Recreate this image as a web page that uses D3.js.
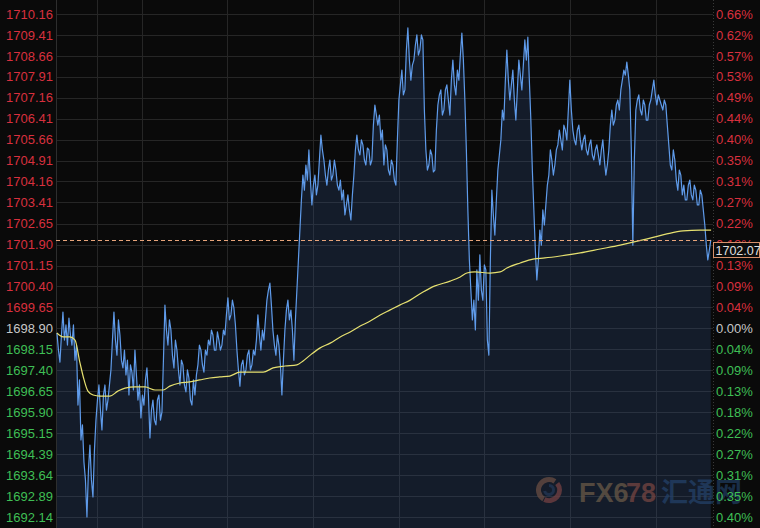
<!DOCTYPE html>
<html><head><meta charset="utf-8">
<script src="https://cdn.jsdelivr.net/npm/d3@7"></script>
<style>
html,body{margin:0;padding:0;background:#0a0a0a;}
svg{display:block;}
</style></head>
<body>
<svg id="chart" width="760" height="528"></svg>
<script>
// ---- data ----
const tickValues = [1710.16,1709.41,1708.66,1707.91,1707.16,1706.41,1705.66,1704.91,1704.16,1703.41,1702.65,1701.90,1701.15,1700.40,1699.65,1698.90,1698.15,1697.40,1696.65,1695.90,1695.15,1694.39,1693.64,1692.89,1692.14];
const prevClose = 1698.90;
const lastPrice = 1702.07;
const sessionMinutes = 1380;
const gridMinutes = [86,180,360,540,720,900,1080,1260];
const priceStartMin = 2, priceStepMin = 3.15;
const prices = [
1698.73,1698.12,1697.69,1698.66,1699.48,1698.48,1699.02,1698.30,1699.27,1698.66,1698.30,1699.02,1697.76,1698.30,1696.15,1697.05,
1694.90,1695.44,1694.11,1693.47,1692.14,1693.82,1694.72,1693.47,1692.86,1694.54,1695.61,1696.33,1696.87,1695.97,1695.26,1696.51,
1696.87,1695.97,1696.33,1696.87,1697.41,1698.48,1699.48,1698.48,1697.94,1699.20,1698.66,1697.76,1697.48,1698.12,1697.23,1697.76,
1696.51,1697.59,1697.33,1696.69,1698.12,1697.23,1696.33,1696.87,1695.69,1696.51,1696.15,1697.05,1697.48,1696.51,1694.97,1695.97,
1696.33,1695.61,1695.44,1696.33,1696.51,1695.61,1695.90,1697.76,1699.73,1698.84,1698.30,1699.20,1698.84,1697.94,1697.48,1698.48,
1698.12,1697.41,1696.87,1697.76,1697.59,1696.87,1696.62,1697.41,1697.12,1696.33,1696.15,1697.05,1696.51,1697.23,1697.59,1698.30,
1698.12,1697.59,1697.33,1698.12,1697.94,1698.48,1698.30,1698.84,1698.66,1698.12,1698.12,1698.77,1698.48,1698.12,1698.30,1698.84,
1698.66,1699.38,1699.99,1699.20,1699.38,1699.91,1699.63,1699.02,1698.12,1697.41,1696.83,1697.59,1697.76,1697.23,1697.41,1697.94,
1698.12,1697.41,1697.59,1698.12,1697.94,1698.48,1699.38,1698.66,1698.12,1698.84,1698.48,1699.20,1699.91,1700.27,1700.52,1699.73,
1698.84,1698.30,1697.94,1698.66,1698.30,1697.59,1696.51,1697.76,1698.84,1699.55,1699.91,1699.20,1699.55,1698.84,1697.76,1699.20,
1700.27,1701.35,1702.42,1703.50,1704.39,1703.85,1704.75,1704.21,1705.29,1704.21,1703.32,1704.03,1704.39,1703.68,1704.03,1704.93,
1705.82,1705.29,1704.93,1704.39,1704.03,1704.57,1704.93,1704.21,1704.39,1704.93,1704.57,1704.03,1703.85,1704.21,1703.50,1703.85,
1702.96,1703.32,1703.68,1703.14,1702.78,1703.68,1704.39,1705.29,1705.82,1705.29,1705.11,1705.65,1705.47,1704.93,1704.75,1705.36,
1705.29,1704.75,1704.93,1706.18,1706.90,1706.54,1706.18,1706.54,1705.65,1706.00,1704.75,1705.47,1705.29,1704.57,1704.39,1704.93,
1704.75,1704.21,1704.03,1705.65,1707.08,1707.62,1708.15,1707.26,1707.44,1708.87,1709.66,1708.51,1707.79,1708.33,1708.51,1709.05,
1709.41,1708.69,1708.87,1709.41,1709.23,1706.72,1705.29,1704.57,1704.75,1705.29,1705.11,1704.50,1704.57,1706.00,1706.90,1707.26,
1707.44,1706.54,1706.72,1707.44,1707.62,1707.08,1706.54,1707.79,1708.51,1707.62,1707.26,1708.15,1707.79,1708.69,1709.48,1708.51,
1707.08,1705.29,1703.14,1701.35,1700.27,1699.20,1699.91,1698.84,1700.99,1699.91,1701.53,1700.27,1699.91,1701.17,1700.99,1698.48,
1697.94,1701.35,1703.85,1702.96,1702.24,1703.50,1704.57,1705.11,1705.65,1706.72,1706.36,1707.79,1708.87,1707.79,1707.08,1707.62,
1708.15,1707.08,1706.36,1707.44,1708.51,1707.97,1707.44,1708.33,1709.23,1708.51,1709.33,1707.79,1706.36,1704.57,1703.14,1701.70,
1700.63,1701.35,1702.42,1701.88,1703.14,1702.60,1703.32,1704.03,1704.39,1705.29,1704.93,1704.39,1704.75,1705.29,1705.47,1706.00,
1705.65,1705.29,1706.18,1706.00,1705.65,1706.72,1707.79,1706.72,1706.00,1705.65,1705.47,1706.00,1706.18,1705.65,1705.29,1705.65,
1705.82,1705.29,1705.11,1705.47,1705.65,1705.11,1704.93,1705.29,1705.47,1705.11,1704.75,1705.29,1705.65,1704.93,1704.39,1704.75,
1705.29,1706.18,1706.72,1706.18,1706.36,1706.90,1707.08,1706.72,1707.44,1707.79,1708.15,1707.97,1708.44,1707.97,1707.44,1705.29,
1701.88,1704.93,1706.72,1707.08,1707.26,1706.72,1706.54,1707.08,1706.90,1706.36,1706.36,1706.90,1707.08,1707.44,1707.79,1707.26,
1706.90,1707.26,1707.08,1706.90,1706.72,1707.08,1706.90,1706.18,1705.47,1704.75,1704.57,1705.29,1704.93,1704.21,1703.85,1704.57,
1704.39,1703.68,1704.03,1703.50,1703.50,1704.03,1704.21,1703.68,1703.50,1704.03,1703.85,1703.32,1703.32,1703.85,1703.68,1703.14,
1702.60,1701.88,1701.35,1701.70,1702.07];
const avgMinutes = [2,15,29,40,50,59,67,78,92,113,130,145,166,187,208,225,239,260,281,302,323,344,365,386,407,435,456,481,506,519,534,554,576,597,618,639,660,681,702,722,744,771,796,828,849,863,880,912,933,947,975,1002,1027,1059,1101,1143,1185,1212,1248,1283,1317,1353,1376];
const avgValues = [1698.73,1698.59,1698.59,1698.48,1697.69,1697.05,1696.65,1696.51,1696.47,1696.47,1696.65,1696.76,1696.80,1696.80,1696.69,1696.69,1696.83,1696.94,1696.98,1697.05,1697.12,1697.16,1697.19,1697.33,1697.33,1697.33,1697.48,1697.55,1697.59,1697.73,1697.94,1698.19,1698.37,1698.59,1698.77,1698.98,1699.16,1699.38,1699.56,1699.73,1699.91,1700.20,1700.42,1700.59,1700.74,1700.88,1700.92,1700.88,1700.92,1701.06,1701.24,1701.38,1701.42,1701.49,1701.60,1701.74,1701.88,1701.99,1702.13,1702.28,1702.39,1702.42,1702.42];

// ---- layout ----
const W = 760, H = 528;
const pL = 56, pR = 713, pT = 0, pB = 528;
const svg = d3.select('#chart');
svg.append('rect').attr('width', W).attr('height', H).attr('fill', '#0a0a0a');

const x = d3.scaleLinear().domain([0, sessionMinutes]).range([pL, pR]);
const y = d3.scaleLinear().domain([1692.14, 1710.16]).range([517, 14]);

const priceData = prices.map((v, i) => ({t: priceStartMin + i * priceStepMin, v}));
const avgData = avgMinutes.map((t, i) => ({t, v: avgValues[i]}));

// grid
const grid = svg.append('g');
grid.selectAll('line.h').data(tickValues).join('line')
  .attr('x1', pL).attr('x2', pR)
  .attr('y1', d => Math.round(y(d)) + 0.5).attr('y2', d => Math.round(y(d)) + 0.5)
  .attr('stroke', '#262626').attr('stroke-width', 1);
grid.selectAll('line.v').data(gridMinutes).join('line')
  .attr('x1', d => Math.round(x(d)) + 0.5).attr('x2', d => Math.round(x(d)) + 0.5)
  .attr('y1', pT).attr('y2', pB)
  .attr('stroke', '#262626').attr('stroke-width', 1);
// borders
svg.append('line').attr('x1', pL + 0.5).attr('x2', pL + 0.5).attr('y1', 0).attr('y2', H)
  .attr('stroke', '#2e2e2e');
svg.append('line').attr('x1', pR + 0.5).attr('x2', pR + 0.5).attr('y1', 0).attr('y2', H)
  .attr('stroke', '#3a3a3a').attr('stroke-dasharray', '1,2');

// watermark
const wm = svg.append('g').attr('opacity', 0.75);
const cx = 549, cy = 490;
wm.append('path').attr('d', d3.arc()({innerRadius: 8, outerRadius: 13, startAngle: -2.6, endAngle: 0.6}))
  .attr('transform', `translate(${cx},${cy})`).attr('fill', '#7a4a2a');
wm.append('path').attr('d', d3.arc()({innerRadius: 8, outerRadius: 13, startAngle: 0.9, endAngle: 3.6}))
  .attr('transform', `translate(${cx},${cy})`).attr('fill', '#8a3a2a');
wm.append('path').attr('d', d3.arc()({innerRadius: 3, outerRadius: 6, startAngle: 0, endAngle: 4.5}))
  .attr('transform', `translate(${cx},${cy})`).attr('fill', '#1e2e44');
wm.append('text').attr('x', 579).attr('y', 502)
  .attr('font-family', 'Liberation Sans, Arial, sans-serif').attr('font-weight', 'bold').attr('font-size', 27)
  .attr('fill', '#7a5a30').text('FX6');
wm.append('text').attr('x', 626).attr('y', 502)
  .attr('font-family', 'Liberation Sans, Arial, sans-serif').attr('font-weight', 'bold').attr('font-size', 27)
  .attr('fill', '#8a4028').text('78');
wm.append('text').attr('x', 661).attr('y', 502)
  .attr('font-family', 'Noto Sans CJK SC, sans-serif').attr('font-weight', 'bold').attr('font-size', 27)
  .attr('fill', '#1f3a5c').text('汇通网');

// area + lines
const area = d3.area().x(d => x(d.t)).y0(pB).y1(d => y(d.v));
svg.append('path').datum(priceData).attr('d', area).attr('fill', 'rgba(50,85,140,0.25)');

const line = d3.line().x(d => x(d.t)).y(d => y(d.v));
svg.append('path').datum(priceData).attr('d', line)
  .attr('fill', 'none').attr('stroke', '#5f9bea').attr('stroke-width', 1.2).attr('stroke-linejoin', 'round');

const avgLine = d3.line().x(d => x(d.t)).y(d => y(d.v)).curve(d3.curveMonotoneX);
svg.append('path').datum(avgData).attr('d', avgLine)
  .attr('fill', 'none').attr('stroke', '#e6e070').attr('stroke-width', 1.2);

// current price line
const ly = Math.round(y(lastPrice)) + 0.5;
svg.append('line').attr('x1', pL).attr('x2', pR)
  .attr('y1', ly).attr('y2', ly)
  .attr('stroke', '#e8a47a').attr('stroke-dasharray', '4,3').attr('stroke-width', 1);

// axis labels
const colorFor = v => Math.abs(v - prevClose) < 0.005 ? '#c8c8c8' : (v > prevClose ? '#d8303e' : '#3fbf55');
const fontFam = 'Liberation Sans, Arial, sans-serif';
svg.append('g').selectAll('text').data(tickValues).join('text')
  .attr('x', 53).attr('y', d => y(d)).attr('dy', '0.36em')
  .attr('text-anchor', 'end').attr('font-family', fontFam).attr('font-size', 13)
  .attr('fill', colorFor).text(d => d.toFixed(2));
svg.append('g').selectAll('text').data(tickValues).join('text')
  .attr('x', 716).attr('y', d => y(d)).attr('dy', '0.36em')
  .attr('text-anchor', 'start').attr('font-family', fontFam).attr('font-size', 13)
  .attr('fill', colorFor).text(d => (Math.abs(d - prevClose) / prevClose * 100).toFixed(2) + '%');

// last price tag (sits just below the current-price line)
const tagTop = ly + 2;
svg.append('rect').attr('x', 713.5).attr('y', tagTop).attr('width', 46).attr('height', 15)
  .attr('fill', '#0c0c0c').attr('stroke', '#d8906a').attr('stroke-width', 1);
svg.append('text').attr('x', 715.5).attr('y', tagTop + 7.5).attr('dy', '0.36em')
  .attr('font-family', fontFam).attr('font-size', 12.5).attr('fill', '#e0e0e0').text(lastPrice.toFixed(2));
</script>
</body></html>
